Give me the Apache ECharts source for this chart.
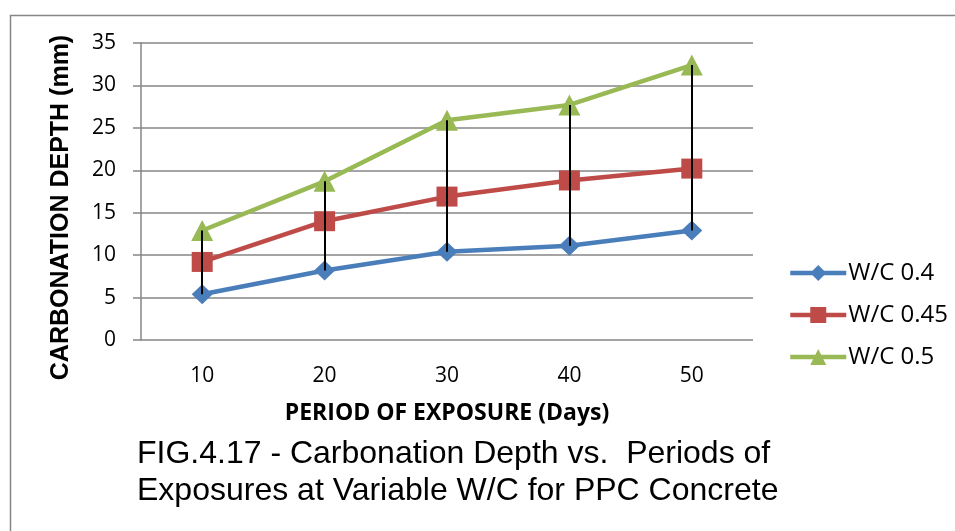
<!DOCTYPE html>
<html><head><meta charset="utf-8">
<script src="https://cdn.jsdelivr.net/npm/echarts@6/dist/echarts.min.js"></script>
<style>html,body{margin:0;padding:0;background:#fff}#c{width:955px;height:531px}</style>
</head><body><div id="c"></div>
<script>
const categories = ['10', '20', '30', '40', '50'];
const wc04 = [5.4, 8.2, 10.4, 11.1, 12.9];
const wc045 = [9.2, 14.0, 16.9, 18.8, 20.2];
const wc05 = [12.9, 18.7, 25.9, 27.7, 32.4];
const seriesNames = ['W/C 0.4', 'W/C 0.45', 'W/C 0.5'];
const yTicks = {min: 0, max: 35, interval: 5};
const yTitle = 'CARBONATION DEPTH (mm)';
const xTitle = 'PERIOD OF EXPOSURE (Days)';
const caption = 'FIG.4.17 - Carbonation Depth vs.  Periods of\nExposures at Variable W/C for PPC Concrete';

const chart = echarts.init(document.getElementById('c'));
const hiLo = categories.map((c, i) => [{coord: [i, wc04[i]]}, {coord: [i, wc05[i]]}]);
const font = '"Open Sans", sans-serif';
chart.setOption({
  animation: false,
  backgroundColor: '#fff',
  grid: {left: 141, top: 43, width: 612, height: 297},
  xAxis: {
    type: 'category', data: categories, boundaryGap: true,
    axisLine: {show: false}, axisTick: {show: false},
    axisLabel: {color: '#000', fontSize: 21, fontFamily: font, margin: 26},
    name: xTitle, nameLocation: 'middle', nameGap: 62,
    nameTextStyle: {color: '#000', fontSize: 23, fontWeight: 'bold', fontFamily: font}
  },
  yAxis: {
    type: 'value', min: yTicks.min, max: yTicks.max, interval: yTicks.interval,
    axisLine: {show: true, lineStyle: {color: '#868686', width: 1.5}},
    axisTick: {show: true, length: 8, lineStyle: {color: '#868686', width: 1.5}},
    splitLine: {lineStyle: {color: '#868686', width: 1.5}},
    axisLabel: {color: '#000', fontSize: 21, fontFamily: font, margin: 25}
  },
  legend: {
    orient: 'vertical', left: 783, top: 256, itemGap: 18,
    itemWidth: 56, itemHeight: 20,
    lineStyle: {width: 4.5},
    textStyle: {color: '#000', fontSize: 24, fontFamily: font, padding: [0, 0, 0, -3]},
    data: seriesNames
  },
  series: [
    {name: seriesNames[0], type: 'line', data: wc04, color: '#4A7EBB', symbol: 'diamond', symbolSize: [21, 20],
     lineStyle: {width: 4.5}, z: 3,
     markLine: {silent: true, symbol: 'none', label: {show: false}, lineStyle: {color: '#000', width: 2, type: 'solid'}, data: hiLo, z: 5}},
    {name: seriesNames[1], type: 'line', data: wc045, color: '#BE4B48', symbol: 'rect', symbolSize: [21, 20],
     lineStyle: {width: 4.5}, z: 3},
    {name: seriesNames[2], type: 'line', data: wc05, color: '#98B954', symbol: 'triangle', symbolSize: [22, 21],
     lineStyle: {width: 4.5}, z: 3}
  ],
  graphic: [
    {type: 'rect', shape: {x: 10.5, y: 15.5, width: 960, height: 530}, style: {fill: 'none', stroke: '#868686', lineWidth: 1.5}, silent: true},
    {type: 'text', x: 61, y: 207.5, rotation: Math.PI / 2, style: {text: yTitle, align: 'center', verticalAlign: 'middle', fill: '#000', font: 'bold 25px "Liberation Sans", Arial, sans-serif'}},
    {type: 'text', left: 137, top: 436, style: {text: caption, align: 'center', fill: '#000', font: '32px "Liberation Sans", Arial, sans-serif', lineHeight: 37}}
  ]
});
</script></body></html>
